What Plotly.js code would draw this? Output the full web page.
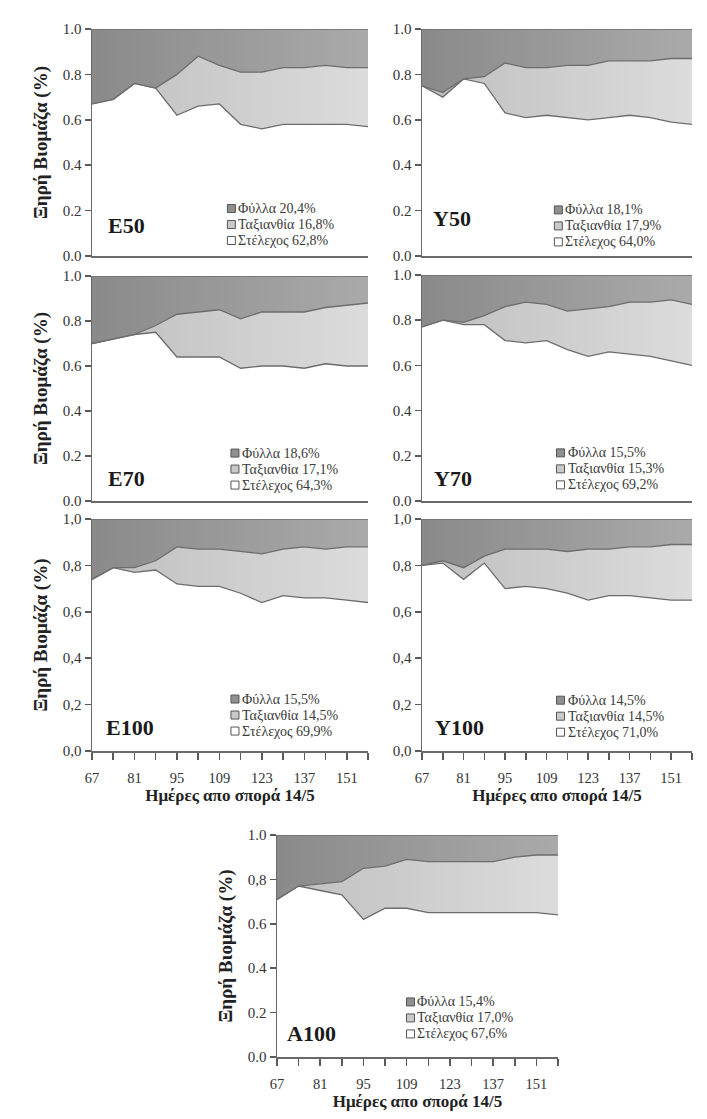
<!DOCTYPE html>
<html>
<head>
<meta charset="utf-8">
<script src="https://cdn.plot.ly/plotly-3.0.1.min.js"></script>
<style>
html,body{margin:0;padding:0;background:#ffffff;}
#chart{width:707px;height:1119px;}
</style>
</head>
<body>
<div id="chart"></div>
<script>
// ---------- DATA ----------
const days = [67, 74, 81, 88, 95, 102, 109, 116, 123, 130, 137, 144, 151, 158];
// every sampling day gets a tick mark; every second one carries a label
const xTickVals = [67, 74, 81, 88, 95, 102, 109, 116, 123, 130, 137, 144, 151, 158];
const xTickLabels = ['67', '', '81', '', '95', '', '109', '', '123', '', '137', '', '151', ''];
const yTickVals = [0, 0.2, 0.4, 0.6, 0.8, 1.0];
const yTickDot = ['0.0', '0.2', '0.4', '0.6', '0.8', '1.0'];
const yTickComma = ['0,0', '0,2', '0,4', '0,6', '0,8', '1,0'];
const yTickA100 = ['0.0', '0.2', '0.4', '0.6', '0,8', '1.0'];

const seriesNames = ['Φύλλα', 'Ταξιανθία', 'Στέλεχος'];
const panelNames = ['E50', 'Y50', 'E70', 'Y70', 'E100', 'Y100', 'A100'];
const yTitle = 'Ξηρή Βιομάζα (%)';
const xTitle = 'Ημέρες απο σπορά 14/5';

// share of dry biomass (fraction): stem, inflorescence, leaves
const stemE50 = [0.67, 0.69, 0.76, 0.74, 0.62, 0.66, 0.67, 0.58, 0.56, 0.58, 0.58, 0.58, 0.58, 0.57];
const inflE50 = [0.00, 0.00, 0.00, 0.00, 0.18, 0.22, 0.17, 0.23, 0.25, 0.25, 0.25, 0.26, 0.25, 0.26];
const leafE50 = [0.33, 0.31, 0.24, 0.26, 0.20, 0.12, 0.16, 0.19, 0.19, 0.17, 0.17, 0.16, 0.17, 0.17];

const stemY50 = [0.75, 0.70, 0.78, 0.76, 0.63, 0.61, 0.62, 0.61, 0.60, 0.61, 0.62, 0.61, 0.59, 0.58];
const inflY50 = [0.00, 0.02, 0.00, 0.03, 0.22, 0.22, 0.21, 0.23, 0.24, 0.25, 0.24, 0.25, 0.28, 0.29];
const leafY50 = [0.25, 0.28, 0.22, 0.21, 0.15, 0.17, 0.17, 0.16, 0.16, 0.14, 0.14, 0.14, 0.13, 0.13];

const stemE70 = [0.70, 0.72, 0.74, 0.75, 0.64, 0.64, 0.64, 0.59, 0.60, 0.60, 0.59, 0.61, 0.60, 0.60];
const inflE70 = [0.00, 0.00, 0.00, 0.03, 0.19, 0.20, 0.21, 0.22, 0.24, 0.24, 0.25, 0.25, 0.27, 0.28];
const leafE70 = [0.30, 0.28, 0.26, 0.22, 0.17, 0.16, 0.15, 0.19, 0.16, 0.16, 0.16, 0.14, 0.13, 0.12];

const stemY70 = [0.77, 0.80, 0.78, 0.78, 0.71, 0.70, 0.71, 0.67, 0.64, 0.66, 0.65, 0.64, 0.62, 0.60];
const inflY70 = [0.00, 0.00, 0.01, 0.04, 0.15, 0.18, 0.16, 0.17, 0.21, 0.20, 0.23, 0.24, 0.27, 0.27];
const leafY70 = [0.23, 0.20, 0.21, 0.18, 0.14, 0.12, 0.13, 0.16, 0.15, 0.14, 0.12, 0.12, 0.11, 0.13];

const stemE100 = [0.74, 0.79, 0.77, 0.78, 0.72, 0.71, 0.71, 0.68, 0.64, 0.67, 0.66, 0.66, 0.65, 0.64];
const inflE100 = [0.00, 0.00, 0.02, 0.04, 0.16, 0.16, 0.16, 0.18, 0.21, 0.20, 0.22, 0.21, 0.23, 0.24];
const leafE100 = [0.26, 0.21, 0.21, 0.18, 0.12, 0.13, 0.13, 0.14, 0.15, 0.13, 0.12, 0.13, 0.12, 0.12];

const stemY100 = [0.80, 0.81, 0.74, 0.81, 0.70, 0.71, 0.70, 0.68, 0.65, 0.67, 0.67, 0.66, 0.65, 0.65];
const inflY100 = [0.00, 0.01, 0.05, 0.03, 0.17, 0.16, 0.17, 0.18, 0.22, 0.20, 0.21, 0.22, 0.24, 0.24];
const leafY100 = [0.20, 0.18, 0.21, 0.16, 0.13, 0.13, 0.13, 0.14, 0.13, 0.13, 0.12, 0.12, 0.11, 0.11];

const stemA100 = [0.71, 0.77, 0.75, 0.73, 0.62, 0.67, 0.67, 0.65, 0.65, 0.65, 0.65, 0.65, 0.65, 0.64];
const inflA100 = [0.00, 0.00, 0.03, 0.06, 0.23, 0.19, 0.22, 0.23, 0.23, 0.23, 0.23, 0.25, 0.26, 0.27];
const leafA100 = [0.29, 0.23, 0.22, 0.21, 0.15, 0.14, 0.11, 0.12, 0.12, 0.12, 0.12, 0.10, 0.09, 0.09];

// mean shares shown in each panel's legend (%)
const leafPct = [20.4, 18.1, 18.6, 15.5, 15.5, 14.5, 15.4];
const inflPct = [16.8, 17.9, 17.1, 15.3, 14.5, 14.5, 17.0];
const stemPct = [62.8, 64.0, 64.3, 69.2, 69.9, 71.0, 67.6];

const stems = [stemE50, stemY50, stemE70, stemY70, stemE100, stemY100, stemA100];
const infls = [inflE50, inflY50, inflE70, inflY70, inflE100, inflY100, inflA100];
const leaves = [leafE50, leafY50, leafE70, leafY70, leafE100, leafY100, leafA100];

// ---------- LAYOUT CONFIG (pixel boxes of plot areas) ----------
const W = 707, H = 1119;
const boxes = [
  [92, 29, 368, 256], [422, 29, 692, 256],
  [92, 276, 368, 501], [422, 275, 692, 501],
  [92, 519, 368, 751], [422, 519, 692, 751],
  [277, 835, 558, 1057]
];
const yTickSets = [yTickDot, yTickDot, yTickDot, yTickDot, yTickComma, yTickComma, yTickA100];
const showXLabels = [false, false, false, false, true, true, true];
const showYTitle = [true, false, true, false, true, false, true];
const labelPos = [[0.05, 0.135], [0.035, 0.165], [0.05, 0.10], [0.037, 0.10], [0.045, 0.10], [0.04, 0.10], [0.03, 0.108]];
const legendPos = [[0.505, 0.209], [0.505, 0.203], [0.518, 0.213], [0.513, 0.213], [0.518, 0.224], [0.513, 0.219], [0.475, 0.248]];

const serif = 'Liberation Serif, Times New Roman, serif';
const lineC = '#6c6c6c';
const axisC = '#5a5a5a';
const leafScale = [[0, '#8a8a8a'], [1, '#aaaaaa']];
const inflScale = [[0, '#bfbfbf'], [1, '#dcdcdc']];
const boxFill = ['#8f8f8f', '#c9c9c9', '#ffffff'];
const fmt = v => v.toFixed(1).replace('.', ',') + '%';

const traces = [];
const layout = {
  width: W, height: H,
  margin: {l: 0, r: 0, t: 0, b: 0},
  paper_bgcolor: '#ffffff',
  plot_bgcolor: '#ffffff',
  showlegend: false,
  font: {family: serif, color: '#333333', size: 14},
  annotations: [],
  shapes: []
};

panelNames.forEach((pn, i) => {
  const sfx = i === 0 ? '' : String(i + 1);
  const xa = 'x' + sfx, ya = 'y' + sfx;
  const b = boxes[i];
  const grp = 'g' + i;

  traces.push({
    x: days, y: stems[i], xaxis: xa, yaxis: ya, stackgroup: grp,
    mode: 'lines', line: {color: lineC, width: 1.3},
    fillcolor: '#ffffff', name: seriesNames[2] + ' ' + fmt(stemPct[i]), hoverinfo: 'skip'
  });
  traces.push({
    x: days, y: infls[i], xaxis: xa, yaxis: ya, stackgroup: grp,
    mode: 'lines', line: {color: lineC, width: 1.3},
    fillcolor: '#cccccc',
    fillgradient: {type: 'horizontal', colorscale: inflScale},
    name: seriesNames[1] + ' ' + fmt(inflPct[i]), hoverinfo: 'skip'
  });
  traces.push({
    x: days, y: leaves[i], xaxis: xa, yaxis: ya, stackgroup: grp,
    mode: 'lines', line: {color: lineC, width: 1.3},
    fillcolor: '#999999',
    fillgradient: {type: 'horizontal', colorscale: leafScale},
    name: seriesNames[0] + ' ' + fmt(leafPct[i]), hoverinfo: 'skip'
  });

  const xAxis = {
    domain: [b[0] / W, b[2] / W],
    anchor: ya,
    range: [67, 158],
    showgrid: false, zeroline: false,
    showline: true, linecolor: '#6a6a6a', linewidth: 1.5
  };
  if (showXLabels[i]) {
    Object.assign(xAxis, {
      tickmode: 'array', tickvals: xTickVals, ticktext: xTickLabels,
      ticks: 'outside', ticklen: 7, tickwidth: 1.5, tickcolor: axisC,
      ticklabelstandoff: 6,
      tickfont: {family: serif, size: 14.5, color: '#333333'},
      title: {text: xTitle, standoff: 3, font: {family: serif, size: 17, color: '#222222', weight: 'bold'}}
    });
  } else {
    Object.assign(xAxis, {showticklabels: false, ticks: ''});
  }
  const yAxis = {
    domain: [1 - b[3] / H, 1 - b[1] / H],
    anchor: xa,
    range: [0, 1],
    tickmode: 'array', tickvals: yTickVals, ticktext: yTickSets[i],
    ticks: 'outside', ticklen: 6, tickwidth: 1.5, tickcolor: axisC,
    showgrid: false, zeroline: false,
    showline: true, linecolor: '#6a6a6a', linewidth: 1.5,
    tickfont: {family: serif, size: 15, color: '#333333'}
  };
  if (showYTitle[i]) {
    yAxis.title = {text: yTitle, standoff: 10, font: {family: serif, size: 19, color: '#222222', weight: 'bold'}};
  }
  layout['xaxis' + sfx] = xAxis;
  layout['yaxis' + sfx] = yAxis;

  // panel label
  layout.annotations.push({
    xref: xa + ' domain', yref: ya + ' domain',
    x: labelPos[i][0], y: labelPos[i][1], xanchor: 'left', yanchor: 'middle',
    text: '<b>' + pn + '</b>', showarrow: false,
    font: {family: serif, size: 22, color: '#1a1a1a'}
  });

  // legend-like key
  const plotH = b[3] - b[1];
  const rowStep = 16 / plotH;
  const legTexts = [
    seriesNames[0] + ' ' + fmt(leafPct[i]),
    seriesNames[1] + ' ' + fmt(inflPct[i]),
    seriesNames[2] + ' ' + fmt(stemPct[i])
  ];
  legTexts.forEach((t, k) => {
    const yy = legendPos[i][1] - k * rowStep;
    layout.shapes.push({
      type: 'rect', xref: xa + ' domain', yref: ya + ' domain',
      xsizemode: 'pixel', ysizemode: 'pixel',
      xanchor: legendPos[i][0], yanchor: yy,
      x0: -4, x1: 4, y0: -4, y1: 4,
      fillcolor: boxFill[k], line: {color: '#555555', width: 1}
    });
    layout.annotations.push({
      xref: xa + ' domain', yref: ya + ' domain',
      x: legendPos[i][0], y: yy, xanchor: 'left', yanchor: 'middle',
      xshift: 5, text: t, showarrow: false,
      font: {family: serif, size: 14, color: '#3a3a3a'}
    });
  });
});

Plotly.newPlot('chart', traces, layout, {staticPlot: true, displayModeBar: false});
</script>
</body>
</html>
